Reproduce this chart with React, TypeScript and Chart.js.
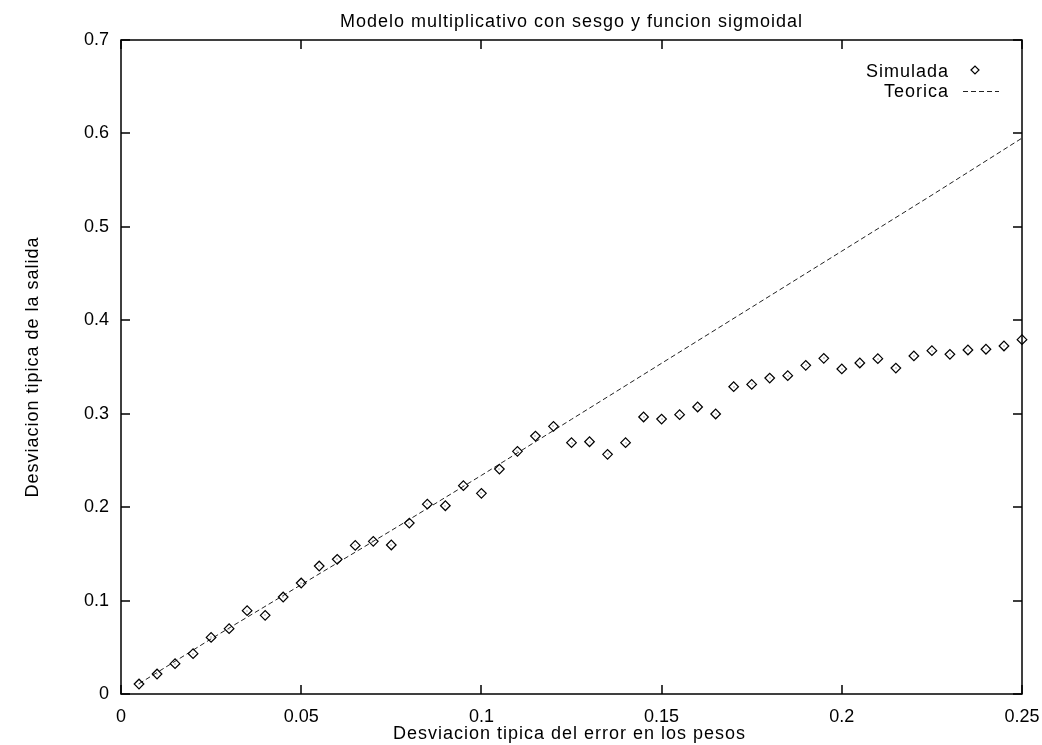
import React, { useEffect, useRef } from 'react';
import { Chart, registerables } from 'chart.js';

Chart.register(...registerables);

// ---- Data ----
const xValues = [
  0.005, 0.01, 0.015, 0.02, 0.025, 0.03, 0.035, 0.04, 0.045, 0.05,
  0.055, 0.06, 0.065, 0.07, 0.075, 0.08, 0.085, 0.09, 0.095, 0.1,
  0.105, 0.11, 0.115, 0.12, 0.125, 0.13, 0.135, 0.14, 0.145, 0.15,
  0.155, 0.16, 0.165, 0.17, 0.175, 0.18, 0.185, 0.19, 0.195, 0.2,
  0.205, 0.21, 0.215, 0.22, 0.225, 0.23, 0.235, 0.24, 0.245, 0.25,
];
const simulada = [
  0.0107, 0.0214, 0.0325, 0.0432, 0.0606, 0.0699, 0.0892, 0.0842, 0.1038, 0.1188,
  0.137, 0.1442, 0.159, 0.1634, 0.1595, 0.183, 0.2032, 0.2015, 0.223, 0.2148,
  0.2408, 0.2597, 0.2761, 0.2865, 0.269, 0.27, 0.2565, 0.269, 0.2965, 0.2943,
  0.299, 0.3072, 0.2997, 0.3289, 0.3314, 0.3382, 0.3407, 0.3518, 0.3593, 0.3479,
  0.3543, 0.3589, 0.3489, 0.3618, 0.3675, 0.3636, 0.3682, 0.369, 0.3725, 0.3793,
];
const teoricaX = [0.005, 0.025, 0.05, 0.075, 0.1, 0.125, 0.15, 0.175, 0.2, 0.225, 0.25];
const teoricaY = [0.011, 0.059, 0.117, 0.175, 0.234, 0.294, 0.354, 0.414, 0.474, 0.534, 0.595];

const xTicks = [0, 0.05, 0.1, 0.15, 0.2, 0.25];
const xTickLabels = ['0', '0.05', '0.1', '0.15', '0.2', '0.25'];
const yTicks = [0, 0.1, 0.2, 0.3, 0.4, 0.5, 0.6, 0.7];
const yTickLabels = ['0', '0.1', '0.2', '0.3', '0.4', '0.5', '0.6', '0.7'];

const titleText = 'Modelo multiplicativo con sesgo y funcion sigmoidal';
const xTitleText = 'Desviacion tipica del error en los pesos';
const yTitleText = 'Desviacion tipica de la salida';
const legendLabels = ['Simulada', 'Teorica'];

const FONT = '"Liberation Sans", Arial, Helvetica, sans-serif';
const FONT_SIZE = 18;

const gnuplotPlugin = {
  id: 'gnuplotPlugin',
  beforeDatasetsDraw(chart: any) {
    const { ctx, chartArea: a, scales } = chart;
    ctx.save();
    ctx.strokeStyle = '#000';
    ctx.lineWidth = 1.5;
    ctx.strokeRect(a.left, a.top, a.right - a.left, a.bottom - a.top);
    const tl = 9;
    ctx.beginPath();
    xTicks.forEach((v) => {
      const px = Math.round(scales.x.getPixelForValue(v));
      ctx.moveTo(px, a.bottom);
      ctx.lineTo(px, a.bottom - tl);
      ctx.moveTo(px, a.top);
      ctx.lineTo(px, a.top + tl);
    });
    yTicks.forEach((v) => {
      const py = Math.round(scales.y.getPixelForValue(v));
      ctx.moveTo(a.left, py);
      ctx.lineTo(a.left + tl, py);
      ctx.moveTo(a.right, py);
      ctx.lineTo(a.right - tl, py);
    });
    ctx.stroke();
    ctx.restore();
  },
  afterDatasetsDraw(chart: any) {
    const { ctx } = chart;
    const meta = chart.getDatasetMeta(0);
    ctx.save();
    ctx.fillStyle = '#555';
    meta.data.forEach((el: any) => {
      ctx.fillRect(Math.round(el.x) - 0.5, Math.round(el.y) - 0.5, 1, 1);
    });
    ctx.restore();
  },
  afterDraw(chart: any) {
    const { ctx, chartArea: a } = chart;
    ctx.save();
    ctx.fillStyle = '#000';
    ctx.font = `${FONT_SIZE}px ${FONT}`;
    try { (ctx as any).letterSpacing = '1px'; } catch (e) {}
    const cx = (a.left + a.right) / 2;
    // Title
    ctx.textAlign = 'center';
    ctx.textBaseline = 'alphabetic';
    ctx.fillText(titleText, cx, 27);
    // X title
    ctx.fillText(xTitleText, cx - 2, 739);
    // Y title
    ctx.save();
    ctx.translate(38, 367);
    ctx.rotate(-Math.PI / 2);
    ctx.fillText(yTitleText, 0, 0);
    ctx.restore();
    // Legend
    ctx.textAlign = 'right';
    ctx.fillText(legendLabels[0], 949, 77);
    ctx.fillText(legendLabels[1], 949, 97);
    // diamond
    const dx = 975, dy = 70, r = 4;
    ctx.strokeStyle = '#000';
    ctx.lineWidth = 1.2;
    ctx.beginPath();
    ctx.moveTo(dx - r, dy);
    ctx.lineTo(dx, dy - r);
    ctx.lineTo(dx + r, dy);
    ctx.lineTo(dx, dy + r);
    ctx.closePath();
    ctx.stroke();
    // dashed line
    ctx.strokeStyle = '#222';
    ctx.lineWidth = 1;
    ctx.setLineDash([5, 3]);
    ctx.beginPath();
    ctx.moveTo(963, 91.5);
    ctx.lineTo(999, 91.5);
    ctx.stroke();
    ctx.restore();
  },
};

export default function App() {
  const canvasRef = useRef<HTMLCanvasElement | null>(null);

  useEffect(() => {
    const canvas = canvasRef.current;
    if (!canvas) return;
    Chart.defaults.font.family = FONT;
    Chart.defaults.font.size = FONT_SIZE;
    Chart.defaults.color = '#000';

    const chart = new Chart(canvas, {
      type: 'scatter',
      data: {
        datasets: [
          {
            label: legendLabels[0],
            data: xValues.map((x, i) => ({ x, y: simulada[i] })),
            pointStyle: 'rectRot',
            pointRadius: 4.8,
            pointBorderWidth: 1.2,
            pointBorderColor: '#000',
            pointBackgroundColor: 'rgba(0,0,0,0)',
            showLine: false,
            clip: false as any,
          },
          {
            label: legendLabels[1],
            data: teoricaX.map((x, i) => ({ x, y: teoricaY[i] })),
            showLine: true,
            borderColor: '#222',
            borderWidth: 1,
            borderDash: [5, 3],
            pointRadius: 0,
            fill: false,
            tension: 0,
          },
        ],
      },
      options: {
        responsive: false,
        animation: false,
        devicePixelRatio: 1,
        layout: { padding: { top: 40, right: 20, left: 0, bottom: 0 } },
        plugins: {
          legend: { display: false },
          title: { display: false },
          tooltip: { enabled: false },
        },
        scales: {
          x: {
            type: 'linear',
            min: 0,
            max: 0.25,
            grid: { display: false, drawTicks: false },
            border: { display: false },
            afterBuildTicks: (s: any) => {
              s.ticks = xTicks.map((v) => ({ value: v }));
            },
            afterFit: (s: any) => {
              s.height = 51;
              s.paddingLeft = 0;
              s.paddingRight = 0;
            },
            ticks: {
              padding: 12,
              maxRotation: 0,
              autoSkip: false,
              font: { size: FONT_SIZE, family: FONT },
              color: '#000',
              callback: (v: any) => {
                const i = xTicks.findIndex((t) => Math.abs(t - v) < 1e-9);
                return i >= 0 ? xTickLabels[i] : '';
              },
            },
          },
          y: {
            type: 'linear',
            min: 0,
            max: 0.7,
            grid: { display: false, drawTicks: false },
            border: { display: false },
            afterBuildTicks: (s: any) => {
              s.ticks = yTicks.map((v) => ({ value: v }));
            },
            afterFit: (s: any) => {
              s.width = 121;
              s.paddingTop = 0;
              s.paddingBottom = 0;
            },
            ticks: {
              padding: 12,
              autoSkip: false,
              font: { size: FONT_SIZE, family: FONT },
              color: '#000',
              callback: (v: any) => {
                const i = yTicks.findIndex((t) => Math.abs(t - v) < 1e-9);
                return i >= 0 ? yTickLabels[i] : '';
              },
            },
          },
        },
      },
      plugins: [gnuplotPlugin],
    });
    return () => chart.destroy();
  }, []);

  return (
    <div style={{ position: 'absolute', left: 0, top: 0, width: 1042, height: 745, background: '#fff' }}>
      <canvas ref={canvasRef} width={1042} height={745} style={{ display: 'block' }} />
    </div>
  );
}
